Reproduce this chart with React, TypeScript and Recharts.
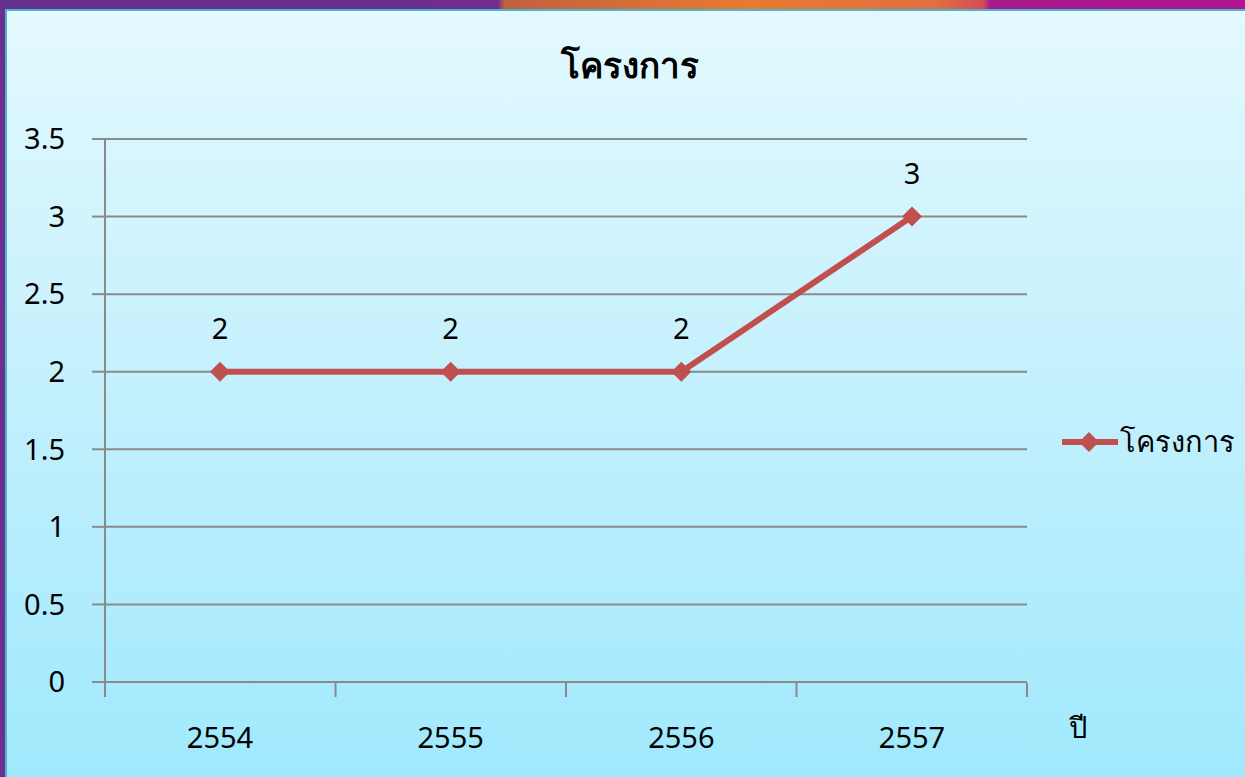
import React from 'react';
import { LineChart, Line, XAxis, YAxis, CartesianGrid, Legend, LabelList } from 'recharts';

// ข้อมูลจำนวนโครงการต่อปี
const years = ['2554', '2555', '2556', '2557'];
const projects = [2, 2, 2, 3];
const yTicks = [0, 0.5, 1, 1.5, 2, 2.5, 3, 3.5];
const bandEdges = [0, 1, 2, 3, 4];
const seriesName = 'โครงการ';

const data = years.map((y, i) => ({ year: y, value: projects[i], edge: i }));

const FONT = "'Noto Sans', 'DejaVu Sans', sans-serif";
const RED = '#C0504D';
const GRID = '#8a8a8a';

const Diamond = (props: any) => {
  const { cx, cy } = props;
  if (cx == null || cy == null) return null;
  const r = 10;
  return <polygon points={`${cx},${cy - r} ${cx + r},${cy} ${cx},${cy + r} ${cx - r},${cy}`} fill={RED} />;
};

const LegendContent = (props: any) => {
  const { payload } = props;
  return (
    <div>
      {(payload || []).filter((p: any) => p.value === seriesName).map((p: any) => (
        <div key={p.value} style={{ display: 'flex', alignItems: 'center' }}>
          <svg width={58} height={24}>
            <line x1={0} y1={12} x2={56} y2={12} stroke={RED} strokeWidth={6} />
            <polygon points="27,2 37,12 27,22 17,12" fill={RED} />
          </svg>
          <span style={{ fontFamily: FONT, fontSize: 29, color: '#000' }}>{p.value}</span>
        </div>
      ))}
    </div>
  );
};

const App: React.FC = () => (
  <div style={{ position: 'fixed', left: 0, top: 0, width: 1245, height: 777, overflow: 'hidden', background: '#6a2f8f' }}>
    <div
      style={{
        position: 'absolute', left: 0, top: 0, width: 1245, height: 10,
        background: 'linear-gradient(90deg, #66308f 0%, #6e2e8e 40%, #c06040 40.5%, #e87a30 60%, #e07040 75%, #d84a58 79%, #a61a8c 79.5%, #b0168f 100%)',
      }}
    />
    <div
      style={{
        position: 'absolute', left: 5, top: 9, width: 1240, height: 768,
        borderLeft: '2px solid #4fb3cc', borderTop: '2px solid #4fb3cc', boxSizing: 'border-box',
        background: 'linear-gradient(180deg, #e3f9fe 0%, #c3f0fd 50%, #a0e9fd 100%)',
      }}
    />
    <div
      style={{
        position: 'absolute', left: 0, width: 1260, top: 38, textAlign: 'center',
        fontFamily: FONT, fontWeight: 'bold', fontSize: 35, color: '#000',
      }}
    >
      {seriesName}
    </div>
    <div style={{ position: 'absolute', left: 6, top: 9 }}>
      <LineChart width={1239} height={768} data={data} margin={{ top: 130, right: 45, left: 0, bottom: 35 }}>
        <CartesianGrid vertical={false} stroke={GRID} strokeWidth={2} />
        <XAxis
          xAxisId="edges"
          dataKey="edge"
          type="number"
          domain={[0, 4]}
          ticks={bandEdges}
          allowDataOverflow
          tickFormatter={() => ''}
          axisLine={false}
          tickLine={{ stroke: GRID, strokeWidth: 2 }}
          tickSize={14}
          height={59}
        />
        <XAxis
          dataKey="year"
          padding={{ left: 115, right: 115 }}
          axisLine={{ stroke: GRID, strokeWidth: 2 }}
          tickLine={false}
          tickSize={0}
          tickMargin={45}
          height={1}
          tick={{ fill: '#000', fontSize: 29, fontFamily: FONT }}
          label={{ value: 'ปี', position: 'right', offset: 42, dy: 45, fill: '#000', fontSize: 29, fontFamily: FONT }}
        />
        <YAxis
          domain={[0, 3.5]}
          ticks={yTicks}
          width={99}
          axisLine={{ stroke: GRID, strokeWidth: 2 }}
          tickLine={{ stroke: GRID, strokeWidth: 2 }}
          tickSize={13}
          tickMargin={27}
          tick={{ fill: '#000', fontSize: 29, fontFamily: FONT }}
        />
        <Legend
          layout="vertical"
          align="right"
          verticalAlign="middle"
          content={LegendContent}
          wrapperStyle={{ right: 10, top: 410 }}
        />
        <Line
          xAxisId="edges"
          dataKey="edge"
          legendType="none"
          stroke="none"
          dot={false}
          activeDot={false}
          isAnimationActive={false}
        />
        <Line
          type="linear"
          dataKey="value"
          name={seriesName}
          stroke={RED}
          strokeWidth={6}
          dot={<Diamond />}
          activeDot={false}
          isAnimationActive={false}
        >
          <LabelList dataKey="value" position="top" offset={33} fill="#000" fontSize={29} fontFamily={FONT} />
        </Line>
      </LineChart>
    </div>
  </div>
);

export default App;
